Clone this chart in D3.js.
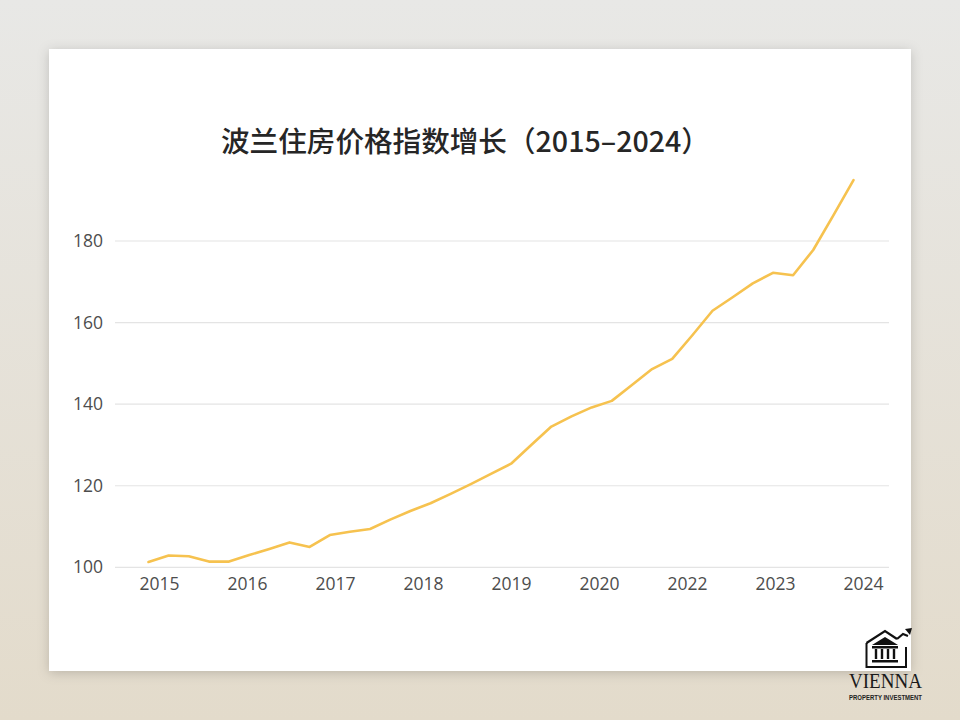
<!DOCTYPE html>
<html>
<head>
<meta charset="utf-8">
<script src="https://cdn.jsdelivr.net/npm/d3@7/dist/d3.min.js"></script>
<style>
  html, body { margin: 0; padding: 0; width: 960px; height: 720px; overflow: hidden; }
  svg { display: block; }
</style>
</head>
<body>
<svg id="chart" width="960" height="720"></svg>
<script>
// ---- Data ----
const titleText = "波兰住房价格指数增长（2015–2024）";
const periods = [
  "2015Q1","2015Q2","2015Q3","2015Q4",
  "2016Q1","2016Q2","2016Q3","2016Q4",
  "2017Q1","2017Q2","2017Q3","2017Q4",
  "2018Q1","2018Q2","2018Q3","2018Q4",
  "2019Q1","2019Q2","2019Q3","2019Q4",
  "2020Q1","2020Q2","2020Q3","2020Q4",
  "2021Q1","2021Q2","2021Q3","2021Q4",
  "2022Q1","2022Q2","2022Q3","2022Q4",
  "2023Q1","2023Q2","2023Q3","2023Q4"
];
const indexValues = [
  101.3, 102.9, 102.7, 101.4,
  101.4, 103.0, 104.5, 106.1,
  105.0, 107.9, 108.7, 109.4,
  111.7, 113.8, 115.7, 118.0,
  120.4, 122.9, 125.4, 130.0,
  134.5, 137.0, 139.2, 140.8,
  144.7, 148.6, 151.1, 156.9,
  162.9, 166.2, 169.6, 172.2,
  171.6, 177.8, 186.3, 194.9
];
const xTickLabels = ["2015","2016","2017","2018","2019","2020","2022","2023","2024"];
const yTickValues = [100, 120, 140, 160, 180];

// ---- Drawing ----
const svg = d3.select("#chart");
const defs = svg.append("defs");

const bg = defs.append("linearGradient").attr("id", "bgGrad")
  .attr("x1", 0).attr("y1", 0).attr("x2", 0).attr("y2", 1);
bg.append("stop").attr("offset", "0%").attr("stop-color", "#e8e8e6");
bg.append("stop").attr("offset", "100%").attr("stop-color", "#e3dbcb");

const shadow = defs.append("filter").attr("id", "cardShadow")
  .attr("x", "-10%").attr("y", "-10%").attr("width", "120%").attr("height", "120%");
shadow.append("feDropShadow").attr("dx", 0).attr("dy", 2)
  .attr("stdDeviation", 6).attr("flood-color", "#000").attr("flood-opacity", 0.18);

svg.append("rect").attr("width", 960).attr("height", 720).attr("fill", "url(#bgGrad)");

// card
svg.append("rect")
  .attr("x", 49).attr("y", 49).attr("width", 862).attr("height", 622)
  .attr("fill", "#ffffff").attr("filter", "url(#cardShadow)");

// title
svg.append("text")
  .attr("x", 221).attr("y", 152)
  .attr("font-family", "'Noto Sans CJK SC', 'Noto Sans', sans-serif")
  .attr("font-size", 28.6)
  .attr("font-weight", 500)
  .attr("fill", "#262626")
  .text(titleText);

// scales
const plotLeft = 115, plotRight = 889;
const y = d3.scaleLinear().domain([100, 180]).range([567.3, 241]);
const xData = d3.scalePoint().domain(periods).range([148.5, 853.5]);
const xLabels = d3.scalePoint().domain(xTickLabels).range([159, 863]);

// gridlines
const grid = svg.append("g").attr("class", "grid");
grid.selectAll("line").data(yTickValues).join("line")
  .attr("x1", plotLeft).attr("x2", plotRight)
  .attr("y1", d => y(d)).attr("y2", d => y(d))
  .attr("stroke", "#e4e4e4").attr("stroke-width", 1.2);

// y axis
const yAxis = svg.append("g")
  .attr("transform", `translate(${103},0)`)
  .call(d3.axisLeft(y).tickValues(yTickValues).tickSize(0).tickPadding(0));
yAxis.select(".domain").remove();
yAxis.selectAll("text")
  .attr("font-family", "'Open Sans', 'Noto Sans', sans-serif")
  .attr("font-size", 17.5).attr("fill", "#4d4d4d");

// x axis
const xAxis = svg.append("g")
  .attr("transform", `translate(0,${578})`)
  .call(d3.axisBottom(xLabels).tickSize(0).tickPadding(0));
xAxis.select(".domain").remove();
xAxis.selectAll("text")
  .attr("font-family", "'Open Sans', 'Noto Sans', sans-serif")
  .attr("font-size", 17.5).attr("fill", "#4d4d4d");

// line
const line = d3.line()
  .x((d, i) => xData(periods[i]))
  .y(d => y(d));
svg.append("path")
  .datum(indexValues)
  .attr("d", line)
  .attr("fill", "none")
  .attr("stroke", "#f6c24f")
  .attr("stroke-width", 2.6)
  .attr("stroke-linejoin", "round")
  .attr("stroke-linecap", "round");

// logo
const logo = svg.append("g").attr("class", "logo");
logo.append("path")
  .attr("d", "M866.5,643 L885,631 L897,639")
  .attr("fill", "none").attr("stroke", "#111").attr("stroke-width", 2.2);
logo.append("path")
  .attr("d", "M866.5,643 L866.5,667 L906,667 L906,647")
  .attr("fill", "none").attr("stroke", "#111").attr("stroke-width", 2);
logo.append("path")
  .attr("d", "M872,645 L885,637 L898,645 Z")
  .attr("fill", "#111");
logo.append("rect").attr("x", 872).attr("y", 646).attr("width", 26).attr("height", 2.5).attr("fill", "#111");
[876, 882, 888, 894].forEach(cx => {
  logo.append("rect").attr("x", cx - 1.2).attr("y", 649).attr("width", 2.4).attr("height", 10).attr("fill", "#111");
});
logo.append("rect").attr("x", 872).attr("y", 660).attr("width", 26).attr("height", 2.5).attr("fill", "#111");
logo.append("path")
  .attr("d", "M897,639 L903,634 L908,636")
  .attr("fill", "none").attr("stroke", "#111").attr("stroke-width", 2.2);
logo.append("path")
  .attr("d", "M905,629 L912,628 L910,635 Z")
  .attr("fill", "#111");
logo.append("text")
  .attr("x", 885.5).attr("y", 688)
  .attr("text-anchor", "middle")
  .attr("font-family", "'Liberation Serif', 'DejaVu Serif', serif")
  .attr("font-size", 20)
  .attr("fill", "#1a1a1a")
  .attr("textLength", 73).attr("lengthAdjust", "spacingAndGlyphs")
  .text("VIENNA");
logo.append("text")
  .attr("x", 885.5).attr("y", 700)
  .attr("text-anchor", "middle")
  .attr("font-family", "'Liberation Sans', 'DejaVu Sans', sans-serif")
  .attr("font-size", 7)
  .attr("font-weight", "bold")
  .attr("fill", "#222")
  .attr("textLength", 73).attr("lengthAdjust", "spacingAndGlyphs")
  .text("PROPERTY INVESTMENT");
</script>
</body>
</html>
